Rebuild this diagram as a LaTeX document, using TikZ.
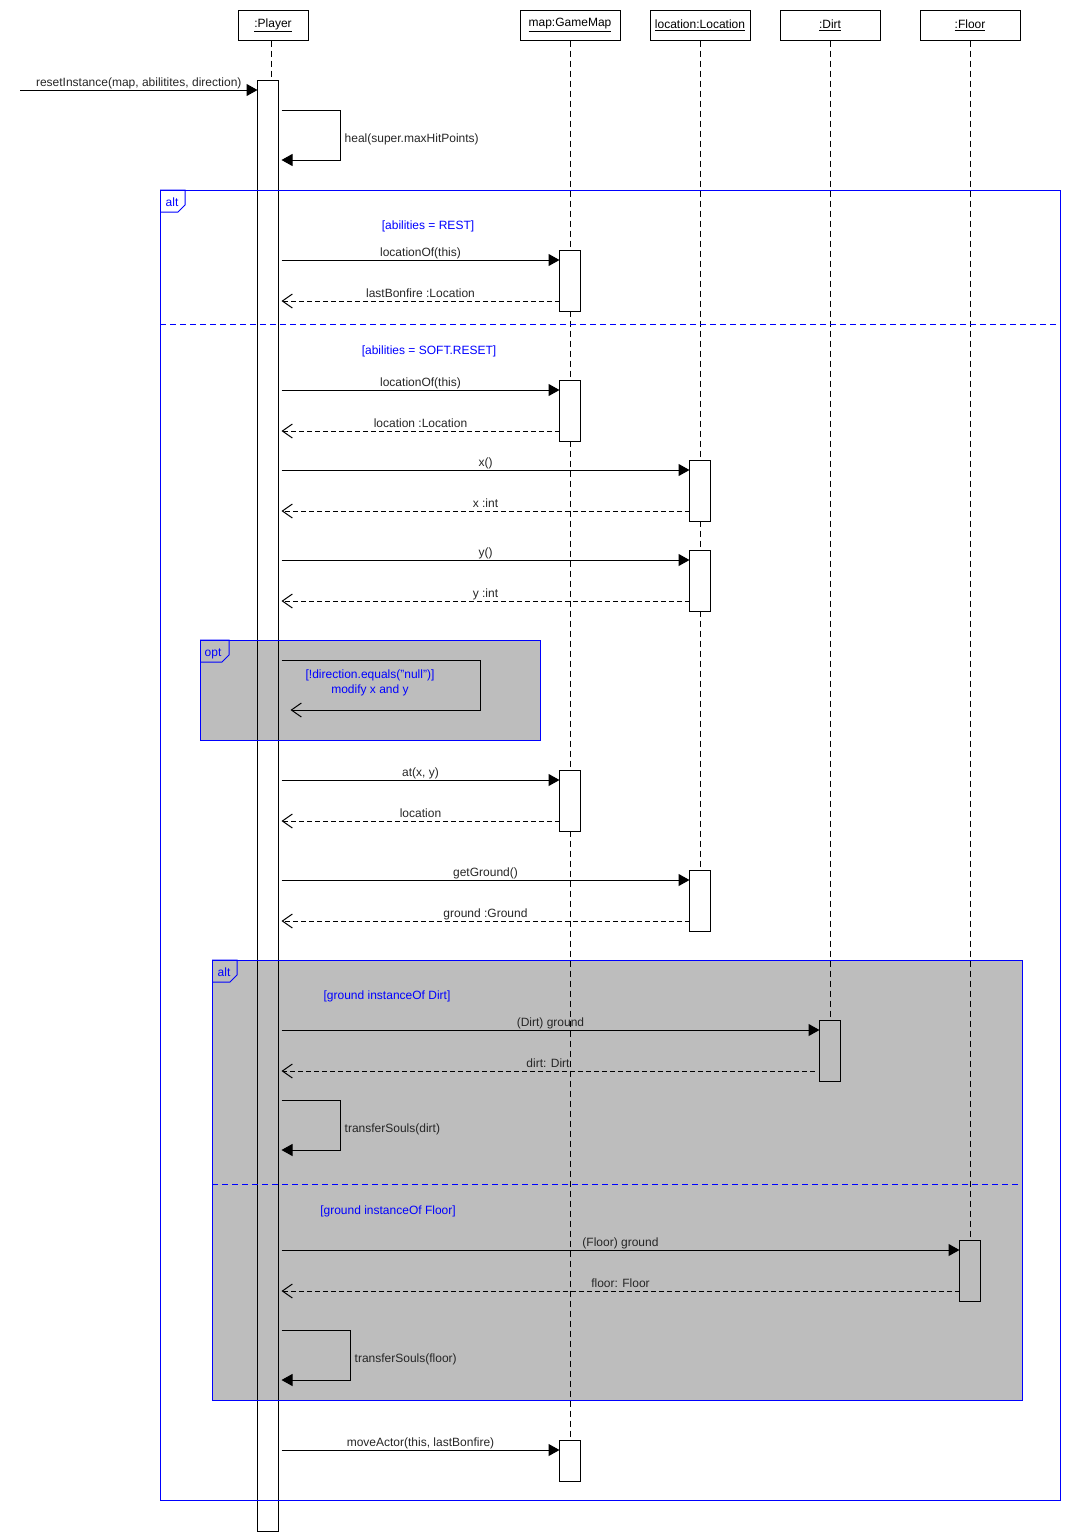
\documentclass[tikz,border=0pt]{standalone}
\usepackage{fontspec}
\setmainfont{Liberation Sans}
\usetikzlibrary{arrows.meta,calc}
\definecolor{fblue}{RGB}{0,0,255}
\begin{document}
\begin{tikzpicture}[x=1pt,y=-1pt,
  every node/.style={font=\fontsize{12}{14}\selectfont},
  head/.style={draw, line width=1pt, minimum height=30pt, inner sep=0pt, fill=white},
  act/.style={draw, fill=white, line width=1pt, minimum width=20pt, inner sep=0pt, anchor=north},
  life/.style={dash pattern=on 6pt off 4pt, line width=1pt},
  call/.style={-{Triangle[length=11pt,width=12pt]}, line width=1pt},
  ret/.style={-{Straight Barb[length=10pt,width=14pt]}, dash pattern=on 5pt off 3pt, line width=1pt},
  lbl/.style={anchor=base, inner sep=0pt, text=black!85},
  guard/.style={anchor=base, inner sep=0pt, text=fblue},
  frame/.style={draw=fblue, line width=1pt},
  shade/.style={draw=fblue, line width=1pt, fill=black, fill opacity=0.26},
  divider/.style={draw=fblue, line width=1pt, dash pattern=on 6pt off 4pt}
]
\useasboundingbox (0,0) rectangle (1070,1540);

% heads
\node[head, minimum width=70pt] (pl) at (273,25) {\underline{:Player}};
\node[head, minimum width=100pt] (gm) at (570,25) {\underline{map:GameMap}};
\node[head, minimum width=100pt] (lc) at (700,25) {\underline{location:Location}};
\node[head, minimum width=100pt] (dt) at (830,25) {\underline{:Dirt}};
\node[head, minimum width=100pt] (fl) at (970,25) {\underline{:Floor}};

% activation nodes positioned (drawn later over lifelines)
\path (268,80) node[act, minimum height=1450pt, draw=none, fill=none] (plbar) {};
\path (570,250) node[act, minimum height=60pt, draw=none, fill=none] (gm1) {};
\path (570,380) node[act, minimum height=60pt, draw=none, fill=none] (gm2) {};
\path (570,770) node[act, minimum height=60pt, draw=none, fill=none] (gm3) {};
\path (570,1440) node[act, minimum height=40pt, draw=none, fill=none] (gm4) {};
\path (700,460) node[act, minimum height=60pt, draw=none, fill=none] (lc1) {};
\path (700,550) node[act, minimum height=60pt, draw=none, fill=none] (lc2) {};
\path (700,870) node[act, minimum height=60pt, draw=none, fill=none] (lc3) {};
\path (830,1020) node[act, minimum height=60pt, draw=none, fill=none] (dt1) {};
\path (970,1240) node[act, minimum height=60pt, draw=none, fill=none] (fl1) {};

% lifelines
\draw[life] ([xshift=-2pt]pl.south) -- ([xshift=-2pt]pl.south |- plbar.north);
\draw[life] (gm.south) -- (gm4.north);
\draw[life] (lc.south) -- (lc3.north);
\draw[life] (dt.south) -- (dt1.north);
\draw[life] (fl.south) -- (fl1.north);

% activation bars
\foreach \b in {plbar,gm1,gm2,gm3,gm4,lc1,lc2,lc3,dt1,fl1}{
  \draw[line width=1pt, fill=white] (\b.north west) rectangle (\b.south east);
}

% outer alt frame
\node[frame, minimum width=900pt, minimum height=1310pt, anchor=north west, inner sep=0pt] (altA) at (160,190) {};
\draw[frame] (altA.north west) -- ++(25,0) -- ++(0,15) -- ++(-7,7) -- ++(-18,0);
\node[guard] (altAlbl) at (172,206) {alt};
\draw[divider] (altA.west |- 0,324) -- (altA.east |- 0,324);

% opt frame (shaded)
\node[shade, minimum width=340pt, minimum height=100pt, anchor=north west, inner sep=0pt] (optF) at (200,640) {};
\draw[frame] (optF.north west) -- ++(29,0) -- ++(0,15) -- ++(-7,7) -- ++(-22,0);
\node[guard] (optlbl) at (213,656) {opt};

% inner alt frame (shaded)
\node[shade, minimum width=810pt, minimum height=440pt, anchor=north west, inner sep=0pt] (altB) at (212,960) {};
\draw[frame] (altB.north west) -- ++(25,0) -- ++(0,15) -- ++(-7,7) -- ++(-18,0);
\node[guard] (altBlbl) at (224,976) {alt};
\draw[divider] (altB.west |- 0,1184) -- (altB.east |- 0,1184);

% guards
\node[guard] (g1) at (428,229) {[abilities = REST]};
\node[guard] (g2) at (429,354) {[abilities = SOFT.RESET]};
\node[guard] (g3) at (387,999) {[ground instanceOf Dirt]};
\node[guard] (g4) at (388,1214) {[ground instanceOf Floor]};

% found message
\coordinate (start) at (20,90);
\draw[call] (start) -- (plbar.west |- start) node[lbl, midway, yshift=4pt] {resetInstance(map, abilitites, direction)};

% self call heal
\path (plbar.north east) ++(3,30) coordinate (s1);
\draw[call] (s1) -- ++(59,0) -- ++(0,50) -- ++(-59,0);
\node[lbl, anchor=base west] (healL) at ($(s1)+(63,32)$) {heal(super.maxHitPoints)};

% REST branch
\coordinate (c1) at ($(gm1.north west)+(0,10)$);
\draw[call] ([xshift=3pt]plbar.east |- c1) -- (c1) node[lbl, midway, yshift=4pt] {locationOf(this)};
\coordinate (r1) at ($(gm1.south west)+(0,-10)$);
\draw[ret] (r1) -- ([xshift=3pt]plbar.east |- r1) node[lbl, midway, yshift=4pt] {lastBonfire :Location};

% SOFT.RESET branch
\coordinate (c2) at ($(gm2.north west)+(0,10)$);
\draw[call] ([xshift=3pt]plbar.east |- c2) -- (c2) node[lbl, midway, yshift=4pt] {locationOf(this)};
\coordinate (r2) at ($(gm2.south west)+(0,-10)$);
\draw[ret] (r2) -- ([xshift=3pt]plbar.east |- r2) node[lbl, midway, yshift=4pt] {location :Location};

\coordinate (c3) at ($(lc1.north west)+(0,10)$);
\draw[call] ([xshift=3pt]plbar.east |- c3) -- (c3) node[lbl, midway, yshift=4pt] {x()};
\coordinate (r3) at ($(lc1.south west)+(0,-10)$);
\draw[ret] (r3) -- ([xshift=3pt]plbar.east |- r3) node[lbl, midway, yshift=4pt] {x :int};

\coordinate (c4) at ($(lc2.north west)+(0,10)$);
\draw[call] ([xshift=3pt]plbar.east |- c4) -- (c4) node[lbl, midway, yshift=4pt] {y()};
\coordinate (r4) at ($(lc2.south west)+(0,-10)$);
\draw[ret] (r4) -- ([xshift=3pt]plbar.east |- r4) node[lbl, midway, yshift=4pt] {y :int};

% opt self loop
\path (plbar.north east) ++(3,580) coordinate (s2);
\coordinate (s2e) at ($(s2)+(9,50)$);
\draw[-{Straight Barb[length=10pt,width=14pt]}, line width=1pt] (s2) -- ++(199,0) -- ++(0,50) -- (s2e);
\node[text=fblue, align=center, inner sep=0pt, font=\fontsize{12}{15}\selectfont] (optT) at (370,683) {[!direction.equals("null")]\\modify x and y};

\coordinate (c5) at ($(gm3.north west)+(0,10)$);
\draw[call] ([xshift=3pt]plbar.east |- c5) -- (c5) node[lbl, midway, yshift=4pt] {at(x, y)};
\coordinate (r5) at ($(gm3.south west)+(0,-10)$);
\draw[ret] (r5) -- ([xshift=3pt]plbar.east |- r5) node[lbl, midway, yshift=4pt] {location};

\coordinate (c6) at ($(lc3.north west)+(0,10)$);
\draw[call] ([xshift=3pt]plbar.east |- c6) -- (c6) node[lbl, midway, yshift=4pt] {getGround()};
\coordinate (r6) at ($(lc3.south west)+(0,-10)$);
\draw[ret] (r6) -- ([xshift=3pt]plbar.east |- r6) node[lbl, midway, yshift=4pt] {ground :Ground};

% Dirt branch
\coordinate (c7) at ($(dt1.north west)+(0,10)$);
\draw[call] ([xshift=3pt]plbar.east |- c7) -- (c7) node[lbl, midway, yshift=4pt] {(Dirt) ground};
\coordinate (r7) at ($(dt1.south west)+(-5,-10)$);
\draw[ret] (r7) -- ([xshift=3pt]plbar.east |- r7) node[lbl, midway, yshift=4pt] {dirt: Dirt};
\path (plbar.north east) ++(3,1020) coordinate (s3);
\draw[call] (s3) -- ++(59,0) -- ++(0,50) -- ++(-59,0);
\node[lbl, anchor=base west] (tsd) at ($(s3)+(63,32)$) {transferSouls(dirt)};

% Floor branch
\coordinate (c8) at ($(fl1.north west)+(0,10)$);
\draw[call] ([xshift=3pt]plbar.east |- c8) -- (c8) node[lbl, midway, yshift=4pt] {(Floor) ground};
\coordinate (r8) at ($(fl1.south west)+(0,-10)$);
\draw[ret] (r8) -- ([xshift=3pt]plbar.east |- r8) node[lbl, midway, yshift=4pt] {floor: Floor};
\path (plbar.north east) ++(3,1250) coordinate (s4);
\draw[call] (s4) -- ++(69,0) -- ++(0,50) -- ++(-69,0);
\node[lbl, anchor=base west] (tsf) at ($(s4)+(73,32)$) {transferSouls(floor)};

% final
\coordinate (c9) at ($(gm4.north west)+(0,10)$);
\draw[call] ([xshift=3pt]plbar.east |- c9) -- (c9) node[lbl, midway, yshift=4pt] {moveActor(this, lastBonfire)};

\end{tikzpicture}
\end{document}
